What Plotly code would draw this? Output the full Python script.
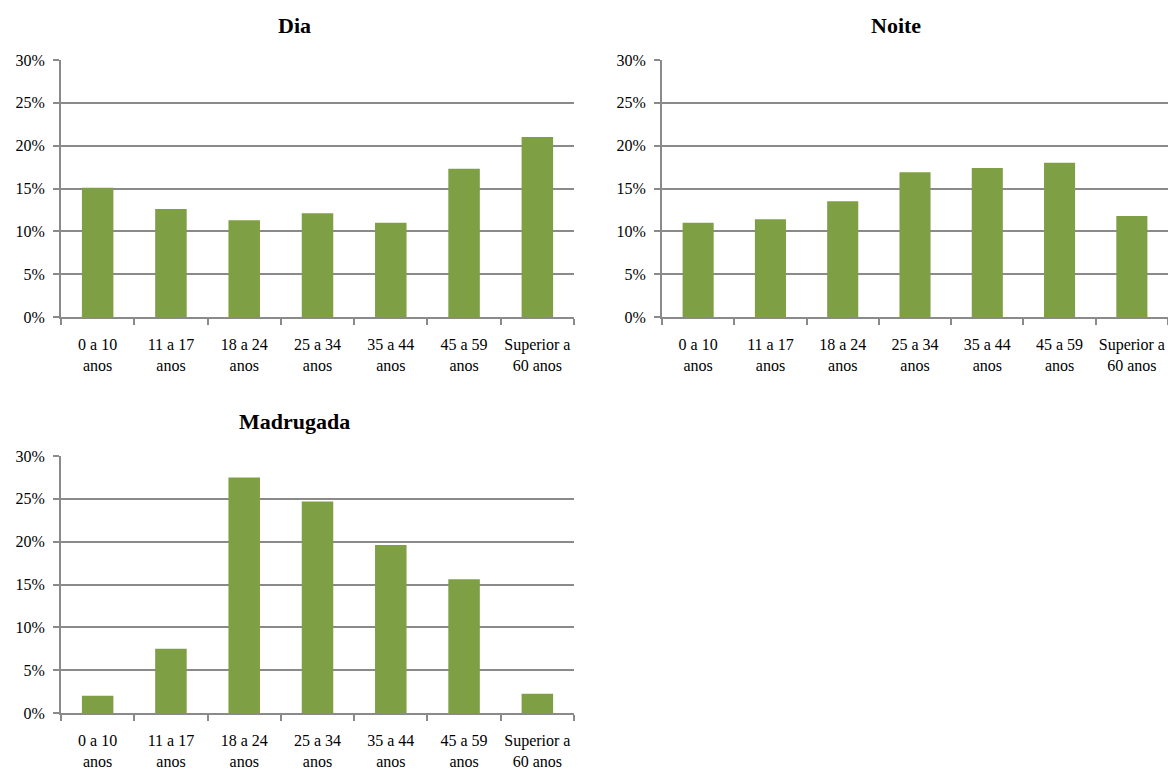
import plotly.graph_objects as go
from plotly.subplots import make_subplots

W, H = 1176, 769
DX, DY = 8, 8  # page offset of the plot div in the browser
FW, FH = W - 2 * DX, H - DY

faixas = ['0 a 10<br>anos', '11 a 17<br>anos', '18 a 24<br>anos', '25 a 34<br>anos',
          '35 a 44<br>anos', '45 a 59<br>anos', 'Superior a<br>60 anos']
dia = [15.1, 12.6, 11.3, 12.1, 11.0, 17.3, 21.0]
noite = [11.0, 11.4, 13.5, 16.9, 17.4, 18.0, 11.8]
madrugada = [2.0, 7.5, 27.5, 24.7, 19.6, 15.6, 2.25]
y_ticks = [0, 5, 10, 15, 20, 25, 30]
y_labels = ['0%', '5%', '10%', '15%', '20%', '25%', '30%']

BAR_COLOR = '#7f9f45'
GRID = '#8a8a8a'
FONT = 'Liberation Serif'

fig = make_subplots(rows=2, cols=2)

# (serie, row, col, titulo)
paineis = [(dia, 1, 1, 'Dia'), (noite, 1, 2, 'Noite'), (madrugada, 2, 1, 'Madrugada')]
for vals, r, c, nome in paineis:
	fig.add_trace(go.Bar(
		x=faixas, y=vals, name=nome,
		width=0.43,
		marker=dict(color=BAR_COLOR, line=dict(width=0)),
	), row=r, col=c)

def px_x(x):
	return min((x - DX) / FW, 1.0)

def px_y(y):
	return 1 - (y - DY) / FH

# pixel boxes from the reference: (x0, x1, ytop, ybottom)
boxes = {
	(1, 1): (61, 574, 60, 317),
	(1, 2): (662, 1168, 60, 317),
	(2, 1): (61, 574, 456, 713),
}
for (r, c), (x0, x1, yt, yb) in boxes.items():
	fig.update_xaxes(
		domain=[px_x(x0), px_x(x1)], automargin=False,
		showline=True, linecolor=GRID, linewidth=2,
		ticks='outside', tickson='boundaries', ticklen=6, tickcolor=GRID, tickwidth=1.5,
		showgrid=False, tickangle=0,
		tickfont=dict(family=FONT, size=16, color='black'),
		ticklabelstandoff=12,
		row=r, col=c)
	fig.update_yaxes(
		domain=[px_y(yb), px_y(yt)], automargin=False,
		range=[0, 30], tickmode='array', tickvals=y_ticks, ticktext=y_labels,
		showline=True, linecolor=GRID, linewidth=2,
		ticks='outside', ticklen=6, tickcolor=GRID, tickwidth=1.5,
		showgrid=True, gridcolor=GRID, gridwidth=1.5, zeroline=False,
		tickfont=dict(family=FONT, size=16, color='black'),
		ticklabelstandoff=5,
		row=r, col=c)

# empty fourth panel
fig.update_xaxes(visible=False, row=2, col=2)
fig.update_yaxes(visible=False, row=2, col=2)

titulos = [('Dia', 294, 25), ('Noite', 896, 25), ('Madrugada', 294, 421)]
for txt, px, py in titulos:
	fig.add_annotation(
		text=f'<b>{txt}</b>', x=px_x(px), y=px_y(py), xref='paper', yref='paper',
		showarrow=False, xanchor='center', yanchor='middle',
		font=dict(family=FONT, size=22, color='black'))

fig.update_layout(
	width=FW, height=FH,
	margin=dict(l=0, r=0, t=0, b=0, autoexpand=False),
	paper_bgcolor='white', plot_bgcolor='white',
	showlegend=False,
)

fig.write_html("out.html")
